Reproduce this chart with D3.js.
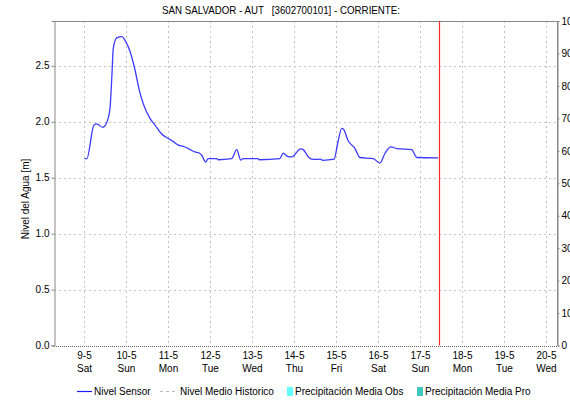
<!DOCTYPE html>
<html>
<head>
<meta charset="utf-8">
<script src="https://cdn.jsdelivr.net/npm/d3@7"></script>
<style>
  html, body { margin: 0; padding: 0; background: #fff; }
  svg { display: block; font-family: "Liberation Sans", Arial, sans-serif; }
</style>
</head>
<body>
<svg id="chart" width="570" height="401"></svg>
<script>
// Nivel Sensor readings (local time, May 2020) and water level in metres
const sensorTimes = [
  "09-05 00:00","09-05 01:20","09-05 05:25","09-05 07:00","09-05 10:25","09-05 12:40",
  "09-05 14:35","09-05 15:30","09-05 16:30","09-05 18:25","09-05 21:20","09-05 23:05",
  "10-05 02:00","10-05 04:55","10-05 07:20","10-05 09:35","10-05 13:25","10-05 16:20",
  "10-05 20:05","10-05 23:55","11-05 03:00","11-05 05:35","11-05 08:30","11-05 11:20",
  "11-05 15:05","11-05 17:30","11-05 19:00","11-05 21:20","11-05 22:40","12-05 03:30",
  "12-05 04:30","12-05 12:05","12-05 15:00","12-05 17:20","12-05 18:40","13-05 03:00",
  "13-05 04:00","13-05 15:40","13-05 17:35","13-05 19:55","13-05 22:25","14-05 03:30",
  "14-05 05:00","14-05 07:55","14-05 10:40","14-05 15:00","14-05 16:00","14-05 22:40",
  "15-05 00:40","15-05 03:00","15-05 03:55","15-05 06:40","15-05 10:35","15-05 13:25",
  "15-05 21:00","16-05 00:50","16-05 03:40","16-05 07:05","16-05 10:25","16-05 19:00",
  "16-05 21:50","17-05 10:10"
];
const sensorLevels = [
  1.67, 1.67, 1.97, 1.98, 1.95, 1.99,
  2.12, 2.36, 2.66, 2.75, 2.76, 2.73,
  2.63, 2.46, 2.28, 2.16, 2.03, 1.97,
  1.89, 1.85, 1.82, 1.79, 1.78, 1.76,
  1.73, 1.72, 1.70, 1.64, 1.67, 1.67,
  1.66, 1.67, 1.75, 1.656, 1.67, 1.67,
  1.66, 1.67, 1.72, 1.69, 1.685, 1.757,
  1.75, 1.685, 1.663, 1.665, 1.655, 1.665,
  1.805, 1.94, 1.935, 1.83, 1.76, 1.68,
  1.67, 1.63, 1.716, 1.775, 1.76, 1.75,
  1.68, 1.677
];

// Current-time marker
const nowMark = "17-05 10:45";

// Axis ticks
const dayTicks = ["09-05","10-05","11-05","12-05","13-05","14-05","15-05","16-05","17-05","18-05","19-05","20-05"];
const levelTicks = [0.0, 0.5, 1.0, 1.5, 2.0, 2.5];
const rainTicks = [0, 10, 20, 30, 40, 50, 60, 70, 80, 90, 100];

const legendItems = [
  { label: "Nivel Sensor", kind: "line" },
  { label: "Nivel Medio Historico", kind: "dash" },
  { label: "Precipitación Media Obs", kind: "box", color: "#66ffff" },
  { label: "Precipitación Media Pro", kind: "box", color: "#40c8c0" }
];

const parseT = d3.timeParse("%d-%m-%Y %H:%M");
const parseD = d3.timeParse("%d-%m-%Y");
const toDate = s => parseT(s.replace(" ", "-2020 "));
const series = sensorTimes.map((t, i) => ({ t: toDate(t), v: sensorLevels[i] }));

const svg = d3.select("#chart");
const L = 54, R = 557, T = 21, B = 345.5;

const x = d3.scaleTime()
  .domain([toDate("08-05 06:35"), toDate("20-05 06:00")])
  .range([L, R]);
const y = d3.scaleLinear().domain([0, 2.9]).range([B, T]);
const y2 = d3.scaleLinear().domain([0, 100]).range([B, T]);

// Title
svg.append("text")
  .attr("x", 281).attr("y", 14)
  .attr("text-anchor", "middle")
  .attr("font-size", 10.5)
  .attr("textLength", 238)
  .attr("lengthAdjust", "spacingAndGlyphs")
  .attr("fill", "#000")
  .style("white-space", "pre")
  .text("SAN SALVADOR - AUT   [3602700101] - CORRIENTE:");

// Grid
const grid = svg.append("g").attr("stroke", "#c4c4c4").attr("stroke-dasharray", "2,3").attr("stroke-width", 1);
grid.selectAll(".gy").data(levelTicks.filter(d => d > 0)).join("line")
  .attr("x1", L).attr("x2", R)
  .attr("y1", d => Math.round(y(d)) + 0.5).attr("y2", d => Math.round(y(d)) + 0.5);
grid.selectAll(".gx").data(dayTicks).join("line")
  .attr("x1", d => Math.round(x(parseD(d + "-2020"))) + 0.5)
  .attr("x2", d => Math.round(x(parseD(d + "-2020"))) + 0.5)
  .attr("y1", T).attr("y2", B);

// Frame
svg.append("line").attr("x1", L).attr("x2", R).attr("y1", T + 0.5).attr("y2", T + 0.5).style("stroke", "#888");
svg.append("line").attr("x1", R + 0.5).attr("x2", R + 0.5).attr("y1", T).attr("y2", B).style("stroke", "#888");
svg.append("line").attr("x1", L).attr("x2", R).attr("y1", Math.round(B) + 0.5).attr("y2", Math.round(B) + 0.5)
  .style("stroke", "#666").attr("stroke-dasharray", "1,1");

// Left axis
const yAxis = svg.append("g").attr("transform", `translate(${L + 0.5},0)`)
  .call(d3.axisLeft(y).tickValues(levelTicks).tickFormat(d3.format(".1f")).tickSizeOuter(0).tickSize(3).tickPadding(2));
yAxis.select(".domain").attr("stroke", "#888");
yAxis.selectAll(".tick line").attr("stroke", "#888");
yAxis.selectAll("text").attr("font-size", 10).attr("fill", "#000").attr("font-family", "Liberation Sans, Arial, sans-serif");

// Right axis
const y2Axis = svg.append("g").attr("transform", `translate(${R + 0.5},0)`)
  .call(d3.axisRight(y2).tickValues(rainTicks).tickSizeOuter(0).tickSize(2).tickPadding(2));
y2Axis.select(".domain").attr("stroke", "#888");
y2Axis.selectAll(".tick line").attr("stroke", "#888");
y2Axis.selectAll("text").attr("font-size", 10).attr("fill", "#000").attr("font-family", "Liberation Sans, Arial, sans-serif");

// Bottom axis labels: date and weekday
const dayFmt = d3.timeFormat("%a");
const xl = svg.append("g").attr("font-size", 10).attr("text-anchor", "middle").attr("fill", "#000");
dayTicks.forEach(d => {
  const dt = parseD(d + "-2020");
  const px = x(dt);
  xl.append("text").attr("x", px).attr("y", 359).text(`${dt.getDate()}-${dt.getMonth() + 1}`);
  xl.append("text").attr("x", px).attr("y", 371.5).text(dayFmt(dt));
});

// Axis title
svg.append("text")
  .attr("transform", `translate(29,199) rotate(-90)`)
  .attr("text-anchor", "middle")
  .attr("font-size", 10)
  .attr("fill", "#000")
  .text("Nivel del Agua [m]");

// Sensor level line
const line = d3.line().x(d => x(d.t)).y(d => y(d.v)).curve(d3.curveMonotoneX);
svg.append("path").datum(series)
  .style("fill", "none").style("stroke", "#3b3bff").style("stroke-width", "1.3px")
  .attr("d", line);

// Current time marker
const nx = Math.round(x(toDate(nowMark))) + 0.5;
svg.append("line").attr("x1", nx).attr("x2", nx).attr("y1", T).attr("y2", B)
  .style("stroke", "#ff2a2a").style("stroke-width", "1.2px");

// Legend
const lg = svg.append("g").attr("font-size", 10).attr("fill", "#000");
const legendX = [77, 160, 287, 417];
legendItems.forEach((it, i) => {
  const gx = legendX[i];
  let tx;
  if (it.kind === "line") {
    lg.append("line").attr("x1", gx).attr("x2", gx + 15).attr("y1", 391.5).attr("y2", 391.5)
      .style("stroke", "#1a1aff").style("stroke-width", "1.2px");
    tx = gx + 17;
  } else if (it.kind === "dash") {
    lg.append("line").attr("x1", gx).attr("x2", gx + 17).attr("y1", 391.5).attr("y2", 391.5)
      .style("stroke", "#bbb").attr("stroke-dasharray", "3,3");
    tx = gx + 20;
  } else {
    lg.append("rect").attr("x", gx).attr("y", 387).attr("width", 6).attr("height", 9).style("fill", it.color);
    tx = gx + 8;
  }
  lg.append("text").attr("x", tx).attr("y", 395).text(it.label);
});
</script>
</body>
</html>
